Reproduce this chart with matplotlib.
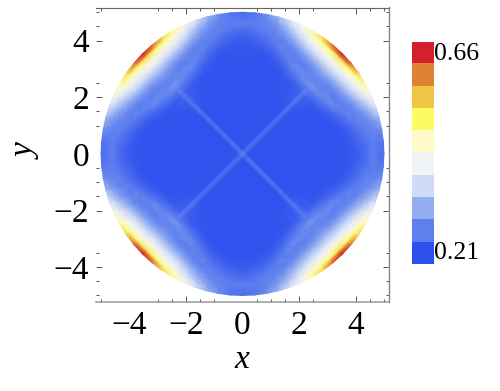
import numpy as np
import matplotlib
matplotlib.use("Agg")
import matplotlib.pyplot as plt
from matplotlib.colors import LinearSegmentedColormap, ListedColormap

W, H = 500, 391

# bar colours, bottom to top
level_colors = ["#2D50EE", "#5E7FEE", "#93AEF0", "#D0DBF8", "#F1F4F5",
                "#FEFBC8", "#FDFB62", "#EFC545", "#E08236", "#D2202C"]
vmin, vmax = 0.21, 0.66

# value read off the picture by radius (columns) and angle from the axis (rows),
# the field has 8-fold symmetry
radii = [0, 2, 3.0, 3.2, 3.4, 3.6, 3.8, 4.0, 4.2, 4.4, 4.6, 4.8, 4.9, 5.0]
angles = [0, 5, 10, 15, 20, 25, 30, 35, 40, 45]
values = [
    [.215, .215, .215, .215, .215, .216, .218, .222, .232, .240, .262, .250, .245, .245],
    [.215, .215, .215, .215, .215, .216, .218, .226, .236, .248, .260, .255, .252, .252],
    [.215, .215, .215, .215, .215, .217, .222, .235, .245, .262, .262, .268, .272, .278],
    [.215, .215, .215, .215, .216, .220, .232, .245, .262, .262, .275, .295, .310, .320],
    [.215, .215, .215, .216, .220, .232, .248, .268, .260, .280, .305, .340, .360, .370],
    [.215, .215, .216, .220, .232, .252, .268, .258, .275, .310, .350, .390, .410, .425],
    [.215, .215, .217, .230, .250, .275, .258, .270, .300, .345, .390, .440, .465, .480],
    [.215, .215, .220, .240, .262, .272, .260, .280, .320, .365, .410, .470, .520, .550],
    [.215, .215, .226, .248, .275, .268, .268, .290, .330, .380, .425, .500, .590, .625],
    [.215, .215, .235, .255, .285, .265, .275, .298, .340, .390, .440, .530, .630, .660],
]

# the faint cross through the middle
cross_x = [-2.25, 2.25]
cross_y = [-2.25, 2.25]

x_labeled = [-4, -2, 0, 2, 4]
y_labeled = [-4, -2, 0, 2, 4]
x_long_hidden = [-4, 0]
y_long_hidden = [0]
x_minor = [-5, -3, -2.5, -1.5, -1, 0.5, 1, 1.5, 2.5, 4.5, 5]
y_minor = [-5, -4.5, -3.5, -1.5, -1, -0.5, 1, 1.5, 2.5, 4.5, 5]

plt.rcParams["font.family"] = ["Liberation Serif", "DejaVu Serif"]
cmap = LinearSegmentedColormap.from_list("field", level_colors)


def px_axes(fig, left, top, right, bottom):
    return fig.add_axes([left / W, 1 - bottom / H, (right - left) / W, (bottom - top) / H])


def full_field():
    table = np.array(values)
    quarter = np.vstack([table, table[-2::-1]])
    quarter_deg = np.concatenate([angles, 90 - np.array(angles[-2::-1])])
    rows = [quarter[:-1] for i in range(4)] + [quarter[:1]]
    degs = [quarter_deg[:-1] + 90 * i for i in range(4)] + [[360]]
    return np.vstack(rows), np.radians(np.concatenate(degs))


fig = plt.figure(figsize=(W / 100, H / 100), dpi=100)
ax = px_axes(fig, 96, 7.5, 389, 302)

field, theta = full_field()
rr, tt = np.meshgrid(radii, theta)
ax.pcolormesh(rr * np.cos(tt), rr * np.sin(tt), field, shading="gouraud",
              cmap=cmap, vmin=vmin, vmax=vmax)

for sign in [1, -1]:
    ys = [sign * v for v in cross_y]
    ax.plot(cross_x, ys, color="#6F8DF0", lw=4.4, alpha=0.20, solid_capstyle="butt")
    ax.plot(cross_x, ys, color="#6F8DF0", lw=2.4, alpha=0.30, solid_capstyle="butt")

ax.set_xlim(-5.18, 5.18)
ax.set_ylim(-5.23, 5.17)

ax.set_xticks(x_labeled)
ax.set_yticks(y_labeled)
ax.set_xticklabels([str(v).replace("-", "\u2212") for v in x_labeled], fontsize=24)
ax.set_yticklabels([str(v).replace("-", "\u2212") for v in y_labeled], fontsize=24)
ax.set_xticks(x_minor, minor=True)
ax.set_yticks(y_minor, minor=True)
ax.tick_params(which="major", direction="in", length=4.5, width=0.7, color="#555555",
               top=True, right=True, labelcolor="black")
ax.tick_params(which="minor", direction="in", length=2.2, width=0.7, color="#555555",
               top=True, right=True)
ax.tick_params(axis="x", which="major", pad=6)
ax.tick_params(axis="y", which="major", pad=5)

for t, v in zip(ax.xaxis.get_major_ticks(), x_labeled):
    if v in x_long_hidden:
        t.tick1line.set_visible(False)
        t.tick2line.set_visible(False)
for t, v in zip(ax.yaxis.get_major_ticks(), y_labeled):
    if v in y_long_hidden:
        t.tick1line.set_visible(False)
        t.tick2line.set_visible(False)

ax.spines["left"].set_visible(False)
ax.spines["top"].set_color("#666666")
ax.spines["right"].set_color("#888888")
ax.spines["bottom"].set_color("#999999")
ax.spines["top"].set_linewidth(0.8)
ax.spines["right"].set_linewidth(1.0)
ax.spines["bottom"].set_linewidth(1.1)

fig.text(242 / W, 1 - 360 / H, "x", fontsize=24, style="italic", ha="center", va="center")
fig.text(27 / W, 1 - 152 / H, "y", fontsize=24, style="italic", rotation=90,
         ha="center", va="center")

# colour bar
cax = px_axes(fig, 411.5, 41.5, 433.5, 264.5)
cax.imshow(np.arange(len(level_colors))[::-1].reshape(-1, 1), cmap=ListedColormap(level_colors),
           aspect="auto", interpolation="nearest")
cax.axis("off")
fig.text(434 / W, 1 - 54.5 / H, f"{vmax:.2f}", fontsize=18.5, ha="left", va="center")
fig.text(434 / W, 1 - 253 / H, f"{vmin:.2f}", fontsize=18.5, ha="left", va="center")

fig.savefig("out.png", dpi=100)
